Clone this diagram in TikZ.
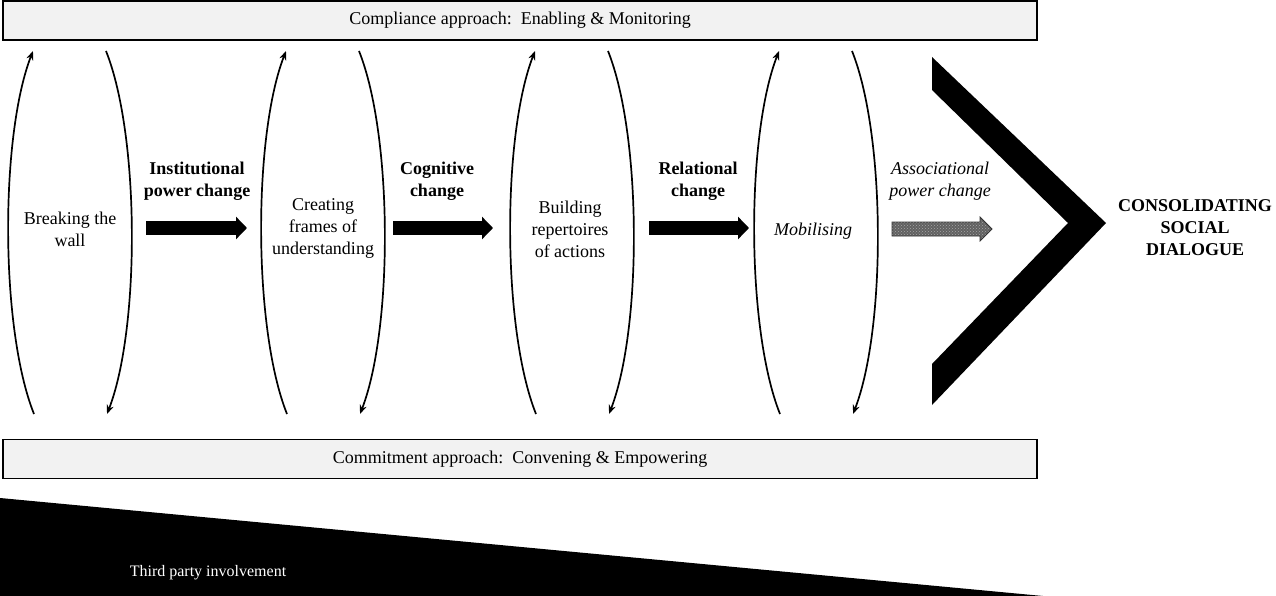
\documentclass[tikz,border=0pt]{standalone}
\usepackage{fontspec}
\setmainfont{Liberation Serif}
\usetikzlibrary{arrows.meta,patterns}
\tikzset{
  band/.style={draw,line width=1.2pt,fill=black!5,minimum width=1034pt,minimum height=39pt,inner sep=0pt},
  brk/.style={line width=1.7pt,-{Stealth[length=9pt,width=7pt]}},
  bigarrow/.style={line width=14pt,-{Triangle[length=11pt,width=22pt]}},
  hatcharrow/.style={draw=black!80,line width=0.8pt,preaction={fill=black!62},pattern=crosshatch dots,pattern color=black!35},
  lbl/.style={align=center,inner sep=0pt},
  lblb/.style={lbl,font=\fontsize{18}{22}\selectfont\bfseries},
  lbli/.style={lbl,font=\fontsize{18}{22}\selectfont\itshape},
}
\begin{document}
\begin{tikzpicture}[x=1pt,y=-1pt,font=\fontsize{18}{22}\selectfont]
\useasboundingbox (0,0) rectangle (1276,596);

\node[band] (comp) at (520,20.5) {Compliance approach:\ \ Enabling \& Monitoring};
\node[band] (comm) at (520,459) {Commitment approach:\ \ Convening \& Empowering};

\foreach \l/\r [count=\i] in {33/106,286/359,535/608,779/852}{
  \coordinate (lt\i) at (\l,51);
  \coordinate (lb\i) at (\l+1,414);
  \coordinate (rt\i) at (\r,51);
  \coordinate (rb\i) at (\r+1,414);
  \draw[brk] (lb\i) .. controls (\l-33,329) and (\l-33,136) .. (lt\i);
  \draw[brk] (rt\i) .. controls (\r+34,136) and (\r+34,329) .. (rb\i);
}

\node[lbl] (wall) at (70,229) {Breaking the\\wall};
\node[lbl] (frames) at (323,228) {Creating\\frames of\\understanding};
\node[lbl] (reper) at (570,229) {Building\\repertoires\\of actions};
\node[lbli] (mobil) at (813,231) {Mobilising};

\node[lblb] (inst) at (197,181) {Institutional\\power change};
\node[lblb] (cogn) at (437,181) {Cognitive\\change};
\node[lblb] (rela) at (698,181) {Relational\\change};
\node[lbli] (asso) at (940,181) {Associational\\power change};

\coordinate (a1s) at (146,228);
\coordinate (a1e) at (247,228);
\coordinate (a2s) at (393,228);
\coordinate (a2e) at (493,228);
\coordinate (a3s) at (649,228);
\coordinate (a3e) at (749,228);
\draw[bigarrow] (a1s) -- (a1e);
\draw[bigarrow] (a2s) -- (a2e);
\draw[bigarrow] (a3s) -- (a3e);
\draw[hatcharrow] (892,222) -- (980,222) -- (980,217) -- (992,229) -- (980,241) -- (980,236) -- (892,236) -- cycle;

\fill (932,57) -- (1106,223) -- (932,405) -- (932,364) -- (1068,223) -- (932,90) -- cycle;
\node[lblb] (goal) at (1195,228) {CONSOLIDATING\\SOCIAL\\DIALOGUE};

\fill (0,498) -- (1043,596) -- (0,596) -- cycle;
\node[lbl,text=white,font=\fontsize{16}{19}\selectfont] (third) at (208,573) {Third party involvement};
\end{tikzpicture}
\end{document}
